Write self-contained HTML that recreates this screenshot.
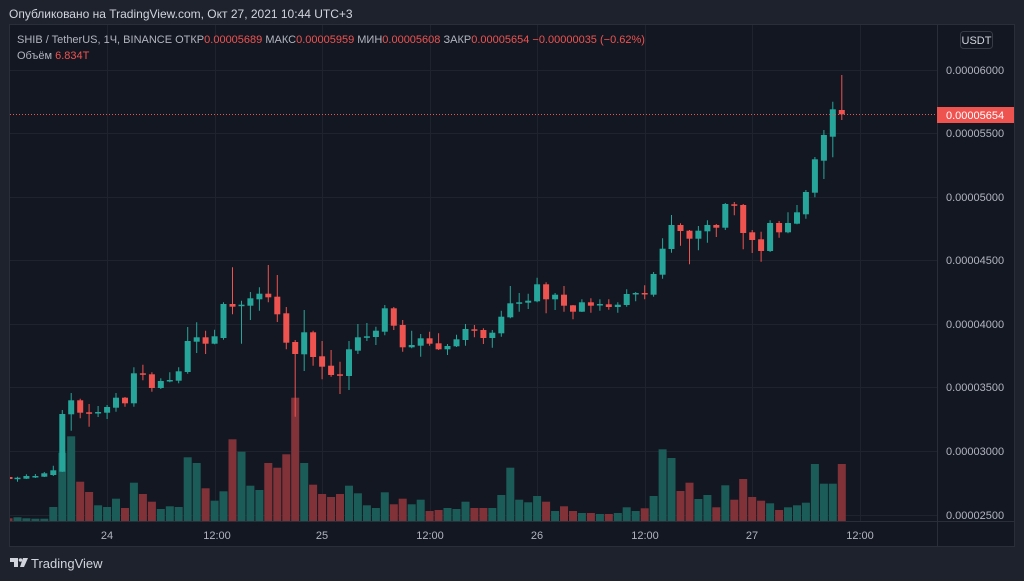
<!DOCTYPE html>
<html><head><meta charset="utf-8"><style>
html,body{margin:0;padding:0;background:#1e222d;width:1024px;height:581px;overflow:hidden}
svg{display:block;font-family:"Liberation Sans",sans-serif}
</style></head><body>
<svg width="1024" height="581" viewBox="0 0 1024 581">
<rect x="0" y="0" width="1024" height="581" fill="#1e222d"/>
<text x="9" y="18" font-size="12" fill="#d1d4dc">Опубликовано на TradingView.com, Окт 27, 2021 10:44 UTC+3</text>
<rect x="9.5" y="24.5" width="1005" height="522" fill="#131722" stroke="#2a2e39"/>
<clipPath id="pc"><rect x="10" y="25" width="927" height="496"/></clipPath>
<g stroke="#1f232e" stroke-width="1">
<path d="M10 70.5H937M10 133.5H937M10 197.5H937M10 260.5H937M10 324.5H937M10 387.5H937M10 451.5H937M10 515.5H937"/>
<path d="M107.5 25V521M215.5 25V521M322.5 25V521M430.5 25V521M537.5 25V521M645.5 25V521M752.5 25V521M860.5 25V521"/>
</g>
<path d="M937.5 25V547M10 521.5H1015" stroke="#2a2e39"/>
<g clip-path="url(#pc)">
<!-- volume -->
<g fill="#1c5c58">
<rect x="13.5" y="517.3" width="8" height="3.7"/><rect x="22.4" y="518.3" width="8" height="2.7"/><rect x="31.4" y="518.7" width="8" height="2.3"/><rect x="40.3" y="518.7" width="8" height="2.3"/><rect x="49.3" y="507" width="8" height="14"/><rect x="58.3" y="452.7" width="8" height="68.3"/><rect x="67.2" y="436.3" width="8" height="84.7"/><rect x="94.1" y="505.3" width="8" height="15.7"/><rect x="103.1" y="507" width="8" height="14"/><rect x="112" y="498.7" width="8" height="22.3"/><rect x="129.9" y="482.7" width="8" height="38.3"/><rect x="156.8" y="509" width="8" height="12"/><rect x="165.8" y="506.3" width="8" height="14.7"/><rect x="174.7" y="507" width="8" height="14"/><rect x="183.7" y="457.3" width="8" height="63.7"/><rect x="192.7" y="463" width="8" height="58"/><rect x="210.6" y="500.7" width="8" height="20.3"/><rect x="219.5" y="491.3" width="8" height="29.7"/><rect x="237.5" y="451.7" width="8" height="69.3"/><rect x="246.4" y="485.7" width="8" height="35.3"/><rect x="255.4" y="490" width="8" height="31"/><rect x="300.2" y="463" width="8" height="58"/><rect x="345" y="485.7" width="8" height="35.3"/><rect x="353.9" y="493.3" width="8" height="27.7"/><rect x="362.9" y="505.3" width="8" height="15.7"/><rect x="371.9" y="508" width="8" height="13"/><rect x="380.8" y="492.3" width="8" height="28.7"/><rect x="407.7" y="504.3" width="8" height="16.7"/><rect x="416.7" y="499.7" width="8" height="21.3"/><rect x="443.5" y="508" width="8" height="13"/><rect x="452.5" y="509" width="8" height="12"/><rect x="461.5" y="501.7" width="8" height="19.3"/><rect x="488.3" y="508" width="8" height="13"/><rect x="497.3" y="495" width="8" height="26"/><rect x="506.3" y="467.7" width="8" height="53.3"/><rect x="515.2" y="499.7" width="8" height="21.3"/><rect x="524.2" y="502.3" width="8" height="18.7"/><rect x="533.1" y="496" width="8" height="25"/><rect x="551.1" y="511" width="8" height="10"/><rect x="577.9" y="513" width="8" height="8"/><rect x="595.9" y="514" width="8" height="7"/><rect x="613.8" y="513" width="8" height="8"/><rect x="622.7" y="507.3" width="8" height="13.7"/><rect x="631.7" y="511" width="8" height="10"/><rect x="649.6" y="496" width="8" height="25"/><rect x="658.6" y="449.3" width="8" height="71.7"/><rect x="667.5" y="458" width="8" height="63"/><rect x="694.4" y="499" width="8" height="22"/><rect x="703.4" y="495" width="8" height="26"/><rect x="721.3" y="485.3" width="8" height="35.7"/><rect x="766.1" y="503.3" width="8" height="17.7"/><rect x="784" y="507.3" width="8" height="13.7"/><rect x="793" y="505.3" width="8" height="15.7"/><rect x="801.9" y="502.7" width="8" height="18.3"/><rect x="810.9" y="464" width="8" height="57"/><rect x="819.9" y="483.7" width="8" height="37.3"/><rect x="828.8" y="483.7" width="8" height="37.3"/>
</g>
<g fill="#813238">
<rect x="4.5" y="518.3" width="8" height="2.7"/><rect x="76.2" y="481.7" width="8" height="39.3"/><rect x="85.1" y="492" width="8" height="29"/><rect x="121" y="508" width="8" height="13"/><rect x="138.9" y="494" width="8" height="27"/><rect x="147.9" y="501.7" width="8" height="19.3"/><rect x="201.6" y="488.3" width="8" height="32.7"/><rect x="228.5" y="439.3" width="8" height="81.7"/><rect x="264.3" y="463" width="8" height="58"/><rect x="273.3" y="467.7" width="8" height="53.3"/><rect x="282.3" y="454.3" width="8" height="66.7"/><rect x="291.2" y="397.7" width="8" height="123.3"/><rect x="309.1" y="484.7" width="8" height="36.3"/><rect x="318.1" y="494" width="8" height="27"/><rect x="327.1" y="497" width="8" height="24"/><rect x="336" y="494" width="8" height="27"/><rect x="389.8" y="504.3" width="8" height="16.7"/><rect x="398.7" y="498.7" width="8" height="22.3"/><rect x="425.6" y="511" width="8" height="10"/><rect x="434.6" y="510" width="8" height="11"/><rect x="470.4" y="508" width="8" height="13"/><rect x="479.4" y="508" width="8" height="13"/><rect x="542.1" y="501.7" width="8" height="19.3"/><rect x="560" y="506.3" width="8" height="14.7"/><rect x="569" y="511" width="8" height="10"/><rect x="586.9" y="513" width="8" height="8"/><rect x="604.8" y="514" width="8" height="7"/><rect x="640.7" y="508.3" width="8" height="12.7"/><rect x="676.5" y="491" width="8" height="30"/><rect x="685.5" y="482.7" width="8" height="38.3"/><rect x="712.3" y="507.3" width="8" height="13.7"/><rect x="730.3" y="499.7" width="8" height="21.3"/><rect x="739.2" y="479" width="8" height="42"/><rect x="748.2" y="497" width="8" height="24"/><rect x="757.1" y="500.7" width="8" height="20.3"/><rect x="775.1" y="510" width="8" height="11"/><rect x="837.8" y="464" width="8" height="57"/>
</g>
<!-- green candles -->
<path stroke="#26a69a" stroke-width="1" fill="none" d="M17.5 476.7V481.7M26.4 474.3V479M35.4 474V478M44.3 472V477M53.3 465.7V476M62.3 410V472M71.2 393V430.7M98.1 406V417M107.1 405V419M116 393V411.7M133.9 367.3V406.7M160.8 378.3V389M169.8 372.3V382.3M178.7 367.3V383.3M187.7 327V373.7M196.7 322.3V353M214.6 329.7V344.3M223.5 302.3V339.7M241.5 300.7V343.7M250.4 292V320M259.4 287.3V310.7M304.2 310V371M349 341V390M357.9 324V354M366.9 323V341M375.9 326.7V345M384.8 305V335.3M411.7 330.7V348.3M420.7 334V356.7M447.5 344V355M456.5 334.7V347M465.5 324V345.7M492.3 330V347.7M501.3 310.7V336.7M510.3 286V318.3M519.2 293V311.7M528.2 293.7V309M537.1 277.7V302.3M555.1 293V310M581.9 299.3V312M599.9 299.3V310.7M617.8 302.3V312.7M626.7 289.3V306.7M635.7 292V301.3M653.6 272V296.7M662.6 238.3V278.7M671.5 215V252.7M698.4 226V250.3M707.4 220.3V242.7M725.3 203V230M770.1 220.3V252M788 212.3V233.3M797 205V224.3M805.9 190V218.7M814.9 157V197.3M823.9 130V179M832.8 101.7V157.3"/>
<g fill="#26a69a">
<rect x="14.5" y="477.7" width="6" height="1.5"/><rect x="23.4" y="476" width="6" height="2.7"/><rect x="32.4" y="476" width="6" height="1.5"/><rect x="41.3" y="473.3" width="6" height="3.4"/><rect x="50.3" y="470.3" width="6" height="4.7"/><rect x="59.3" y="414" width="6" height="57.7"/><rect x="68.2" y="400.3" width="6" height="14"/><rect x="95.1" y="412" width="6" height="1.5"/><rect x="104.1" y="407" width="6" height="5.7"/><rect x="113" y="397.7" width="6" height="10"/><rect x="130.9" y="373.3" width="6" height="30"/><rect x="157.8" y="381" width="6" height="7"/><rect x="166.8" y="380" width="6" height="1.5"/><rect x="175.7" y="371.3" width="6" height="9.4"/><rect x="184.7" y="341" width="6" height="31"/><rect x="193.7" y="337.3" width="6" height="4.4"/><rect x="211.6" y="336.3" width="6" height="7.4"/><rect x="220.5" y="304" width="6" height="34"/><rect x="238.5" y="304.7" width="6" height="1.5"/><rect x="247.4" y="298.3" width="6" height="7.4"/><rect x="256.4" y="293.7" width="6" height="5.6"/><rect x="301.2" y="332.3" width="6" height="22"/><rect x="346" y="349.3" width="6" height="26.7"/><rect x="354.9" y="337.3" width="6" height="13.4"/><rect x="363.9" y="336.3" width="6" height="1.5"/><rect x="372.9" y="330.7" width="6" height="6.3"/><rect x="381.8" y="308.3" width="6" height="23.4"/><rect x="408.7" y="345" width="6" height="2.3"/><rect x="417.7" y="338.3" width="6" height="7.4"/><rect x="444.5" y="346" width="6" height="3.3"/><rect x="453.5" y="339.3" width="6" height="7"/><rect x="462.5" y="329" width="6" height="11"/><rect x="489.3" y="332.7" width="6" height="5.3"/><rect x="498.3" y="316.7" width="6" height="16.6"/><rect x="507.3" y="303.3" width="6" height="14"/><rect x="516.2" y="302.3" width="6" height="1.5"/><rect x="525.2" y="300.7" width="6" height="2"/><rect x="534.1" y="284.3" width="6" height="17"/><rect x="552.1" y="294.7" width="6" height="4.6"/><rect x="578.9" y="302.3" width="6" height="9.4"/><rect x="596.9" y="304" width="6" height="1.5"/><rect x="614.8" y="304.7" width="6" height="2.3"/><rect x="623.7" y="294" width="6" height="11"/><rect x="632.7" y="293" width="6" height="1.5"/><rect x="650.6" y="274" width="6" height="20.7"/><rect x="659.6" y="248.7" width="6" height="26"/><rect x="668.5" y="225" width="6" height="24"/><rect x="695.4" y="230.7" width="6" height="8"/><rect x="704.4" y="225" width="6" height="6.3"/><rect x="722.3" y="204" width="6" height="23.7"/><rect x="767.1" y="223" width="6" height="28"/><rect x="785" y="223" width="6" height="9.3"/><rect x="794" y="212.3" width="6" height="11.4"/><rect x="802.9" y="192" width="6" height="22.3"/><rect x="811.9" y="159.3" width="6" height="33.4"/><rect x="820.9" y="135" width="6" height="25.7"/><rect x="829.8" y="109.3" width="6" height="27.4"/>
</g>
<!-- red candles -->
<path stroke="#ef5350" stroke-width="1" fill="none" d="M80.2 398.7V418.3M89.1 404V426.7M125 397V406.7M142.9 364.7V380.3M151.9 372.3V391.7M205.6 330.7V354M232.5 267.3V314.3M268.3 265V302.3M277.3 275V322M286.3 307V349.3M295.2 340V416.7M313.1 330.7V365.7M322.1 341V379.3M331.1 350V376.7M340 361.7V394M393.8 307V330M402.7 320V351.7M429.6 331.7V345.7M438.6 333.3V350M474.4 325V337.3M483.4 328.3V344M546.1 282.3V313.3M564 286V311.7M573 305V319.3M590.9 298.3V312.7M608.8 299.3V309.7M644.7 285.3V299.3M680.5 223.3V245.7M689.5 230V264.3M716.3 224V237M734.3 202V215.3M743.2 204V249.3M752.2 230V253M761.1 231.7V261.7M779.1 221V237.7M841.8 75V120"/>
<g fill="#ef5350">
<rect x="10" y="477" width="2.5" height="2"/><rect x="77.2" y="400.3" width="6" height="12.4"/><rect x="86.1" y="412.3" width="6" height="1.5"/><rect x="122" y="397.7" width="6" height="5.6"/><rect x="139.9" y="373.3" width="6" height="1.5"/><rect x="148.9" y="374.3" width="6" height="13.7"/><rect x="202.6" y="337.3" width="6" height="6.4"/><rect x="229.5" y="304" width="6" height="2.7"/><rect x="265.3" y="293.7" width="6" height="3.6"/><rect x="274.3" y="296.7" width="6" height="17.6"/><rect x="283.3" y="313.3" width="6" height="29.4"/><rect x="292.2" y="342" width="6" height="12"/><rect x="310.1" y="332.3" width="6" height="24.7"/><rect x="319.1" y="356.3" width="6" height="10.4"/><rect x="328.1" y="365.7" width="6" height="9.3"/><rect x="337" y="374.3" width="6" height="1.5"/><rect x="390.8" y="308.3" width="6" height="17.4"/><rect x="399.7" y="325" width="6" height="22.3"/><rect x="426.6" y="338.3" width="6" height="5.4"/><rect x="435.6" y="343.3" width="6" height="6"/><rect x="471.4" y="329.3" width="6" height="1.5"/><rect x="480.4" y="330" width="6" height="8"/><rect x="543.1" y="284.3" width="6" height="15"/><rect x="561" y="294.7" width="6" height="11"/><rect x="570" y="305.3" width="6" height="6.4"/><rect x="587.9" y="302.3" width="6" height="3.4"/><rect x="605.8" y="304.3" width="6" height="2.7"/><rect x="641.7" y="293" width="6" height="1.5"/><rect x="677.5" y="225" width="6" height="6"/><rect x="686.5" y="230.7" width="6" height="8"/><rect x="713.3" y="225" width="6" height="2.7"/><rect x="731.3" y="204.3" width="6" height="1.5"/><rect x="740.2" y="205" width="6" height="28"/><rect x="749.2" y="232.3" width="6" height="7.7"/><rect x="758.1" y="239.3" width="6" height="11.7"/><rect x="776.1" y="223" width="6" height="9.3"/><rect x="838.8" y="110" width="6" height="4.3"/>
</g>
<path d="M10 114.5H937" stroke="#ef5350" stroke-width="1" stroke-dasharray="1,2"/>
</g>
<!-- legend -->
<text x="17" y="43" font-size="11" fill="#b2b5be">SHIB / TetherUS, 1Ч, BINANCE  ОТКР<tspan fill="#ef5350">0.00005689</tspan>  МАКС<tspan fill="#ef5350">0.00005959</tspan>  МИН<tspan fill="#ef5350">0.00005608</tspan>  ЗАКР<tspan fill="#ef5350">0.00005654</tspan>  <tspan fill="#ef5350">−0.00000035 (−0.62%)</tspan></text>
<text x="17" y="59" font-size="11" fill="#b2b5be">Объём  <tspan fill="#ef5350">6.834T</tspan></text>
<!-- price axis -->
<rect x="960.5" y="31.5" width="32" height="17" rx="3" fill="#131722" stroke="#363a45"/>
<text x="976.5" y="44" font-size="11" fill="#d1d4dc" text-anchor="middle">USDT</text>
<g font-size="11" fill="#b2b5be">
<text x="946" y="74">0.00006000</text>
<text x="946" y="137">0.00005500</text>
<text x="946" y="201">0.00005000</text>
<text x="946" y="264">0.00004500</text>
<text x="946" y="328">0.00004000</text>
<text x="946" y="391">0.00003500</text>
<text x="946" y="455">0.00003000</text>
<text x="946" y="519">0.00002500</text>
</g>
<rect x="937" y="107" width="77" height="16" fill="#ef5350"/>
<text x="946" y="119" font-size="11" fill="#ffffff">0.00005654</text>
<!-- time axis -->
<g font-size="11" fill="#b2b5be" text-anchor="middle">
<text x="107" y="539">24</text><text x="217" y="539">12:00</text><text x="322" y="539">25</text><text x="430" y="539">12:00</text><text x="537" y="539">26</text><text x="645" y="539">12:00</text><text x="752" y="539">27</text><text x="860" y="539">12:00</text>
</g>
<!-- logo -->
<g fill="#d1d4dc">
<path d="M10 558h8v9h-4v-5h-4z"/><circle cx="20.5" cy="560" r="1.8"/><path d="M23 558h5l-4 9h-4z"/>
</g>
<text x="31" y="568" font-size="13" fill="#d1d4dc">TradingView</text>
</svg>
</body></html>
